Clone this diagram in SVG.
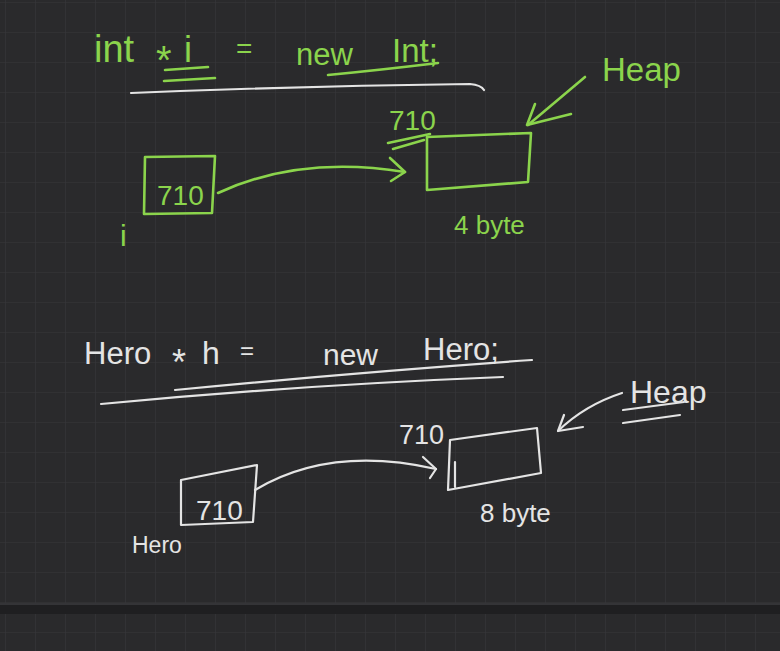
<svg xmlns="http://www.w3.org/2000/svg" width="780" height="651" viewBox="0 0 780 651">
<defs>
<pattern id="grid" x="5" y="2" width="30" height="30" patternUnits="userSpaceOnUse">
<path d="M0 0V30M0 0H30" fill="none" stroke="#37373a" stroke-width="1.2"/>
</pattern>
</defs>
<style>
.g{stroke:#8bd44c;fill:none;stroke-width:2.6;stroke-linecap:round;stroke-linejoin:round}
.w{stroke:#e4e4e4;fill:none;stroke-width:2.2;stroke-linecap:round;stroke-linejoin:round}
.tg{fill:#8bd44c;font-family:"Liberation Sans",Arial,sans-serif}
.tw{fill:#e4e4e4;font-family:"Liberation Sans",Arial,sans-serif}
</style>
<rect width="780" height="651" fill="#2a2a2c"/>
<rect width="780" height="651" fill="url(#grid)"/>
<rect x="0" y="603" width="780" height="2" fill="#343437"/>
<rect x="0" y="605" width="780" height="9" fill="#1f1f21"/>

<g id="code-int">
<text class="tg" x="94" y="62" font-size="38">int</text>
<text class="tg" x="156" y="74" font-size="40">*</text>
<text class="tg" x="184" y="62" font-size="36">i</text>
<text class="tg" x="236" y="58" font-size="28">=</text>
<text class="tg" x="296" y="65" font-size="31">new</text>
<text class="tg" x="392" y="62" font-size="33">Int;</text>
<path class="g" d="M165 70 L208 67 M164 81 L215 78"/>
<path class="g" d="M328 75 Q380 70 438 63" stroke-width="3.2"/>
<path class="w" d="M131 93 Q300 86 470 84 Q481 85 484 90" stroke-width="1.8"/>
</g>

<g id="ptr-i">
<path class="g" d="M145 157 L215 156 L212 213 L144 214 Z"/>
<text class="tg" x="157" y="205" font-size="28">710</text>
<text class="tg" x="120" y="246" font-size="30">i</text>
</g>

<g id="heap-int">
<path class="g" d="M427 137 L531 133 L528 182 L427 190 Z"/>
<text class="tg" x="389" y="130" font-size="28">710</text>
<path class="g" d="M388 143 L430 134 M393 149 L424 140"/>
<text class="tg" x="454" y="234" font-size="26">4 byte</text>
</g>

<g id="label-heap-1">
<text class="tg" x="602" y="81" font-size="33">Heap</text>
</g>

<g id="code-hero">
<text class="tw" x="84" y="364" font-size="31">Hero</text>
<text class="tw" x="172" y="375" font-size="36">*</text>
<text class="tw" x="202" y="364" font-size="32">h</text>
<text class="tw" x="240" y="359" font-size="24">=</text>
<text class="tw" x="323" y="365" font-size="30">new</text>
<text class="tw" x="423" y="360" font-size="31">Hero;</text>
<path class="w" d="M175 390 Q360 372 532 360 M101 404 Q300 385 503 377" stroke-width="1.8"/>
</g>

<g id="ptr-h">
<path class="w" d="M181 480 L257 465 L253 522 L181 525 Z"/>
<text class="tw" x="196" y="520" font-size="28">710</text>
<text class="tw" x="132" y="553" font-size="23">Hero</text>
</g>

<g id="heap-hero">
<path class="w" d="M450 440 L537 428 L541 473 L448 490 Z M455 462 L455 487"/>
<text class="tw" x="399" y="444" font-size="27">710</text>
<text class="tw" x="480" y="522" font-size="26">8 byte</text>
</g>

<g id="label-heap-2">
<text class="tw" x="630" y="403" font-size="32">Heap</text>
<path class="w" d="M623 410 L684 402 M623 423 L680 415"/>
</g>

<g id="connectors">
<path class="g" d="M218 193 Q300 155 405 172"/>
<path class="g" d="M390 158 L405 172 L391 181"/>
<path class="g" d="M585 77 L528 125"/>
<path class="g" d="M535 104 L527 125 L571 114"/>
<path class="w" d="M255 490 Q330 445 436 469"/>
<path class="w" d="M423 457 L436 469 L430 478"/>
<path class="w" d="M622 393 Q585 405 558 431"/>
<path class="w" d="M564 415 L558 431 L583 427"/>
</g>
</svg>
